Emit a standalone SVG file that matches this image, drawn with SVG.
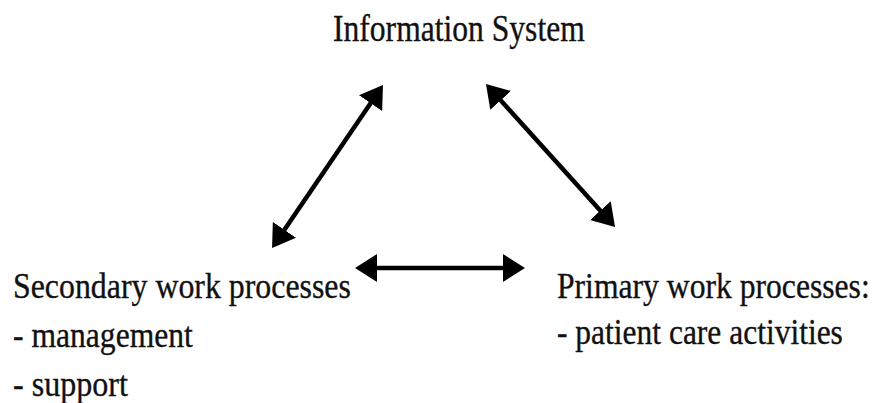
<svg xmlns="http://www.w3.org/2000/svg" width="877" height="403" viewBox="0 0 877 403">
  <style>
    .t { font-family: "Liberation Serif", "Times New Roman", serif; fill: #111; stroke: #111; stroke-width: 0.35; }
    .c { stroke: #000; stroke-width: 4.5; fill: none; }
  </style>
  <defs>
    <marker id="ah" viewBox="0 0 22 28" refX="10" refY="14" markerWidth="22" markerHeight="28" markerUnits="userSpaceOnUse" orient="auto-start-reverse">
      <path d="M0,0 L22,14 L0,28 z" fill="#000"/>
    </marker>
  </defs>
  <rect width="877" height="403" fill="#fff"/>
  <g id="info-system">
    <text class="t" transform="translate(333,41) scale(0.854,1)" font-size="37">Information System</text>
  </g>
  <g id="secondary">
    <text class="t" transform="translate(13,298) scale(0.885,1)" font-size="36">Secondary work processes</text>
    <text class="t" transform="translate(13,347) scale(0.878,1)" font-size="36">- management</text>
    <text class="t" transform="translate(13,396) scale(0.891,1)" font-size="36">- support</text>
  </g>
  <g id="primary">
    <text class="t" transform="translate(557,298) scale(0.879,1)" font-size="36">Primary work processes:</text>
    <text class="t" transform="translate(557,344) scale(0.875,1)" font-size="36">- patient care activities</text>
  </g>
  <g id="connectors">
    <line class="c" x1="278.8" y1="238.1" x2="376.2" y2="94.9" marker-start="url(#ah)" marker-end="url(#ah)"/>
    <line class="c" x1="494" y1="92.9" x2="607" y2="218.1" marker-start="url(#ah)" marker-end="url(#ah)"/>
    <line class="c" x1="367" y1="268" x2="513" y2="268" marker-start="url(#ah)" marker-end="url(#ah)"/>
  </g>
</svg>
